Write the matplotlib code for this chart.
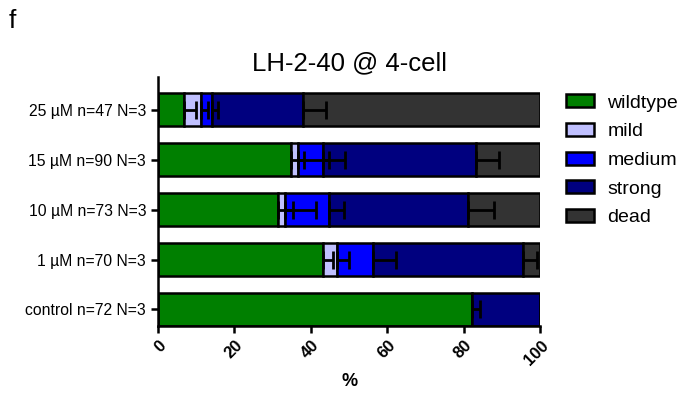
import numpy as np
import matplotlib.pyplot as plt

plt.rcParams['font.family'] = ['Liberation Sans', 'DejaVu Sans']

# groups from bottom to top
groups = ['control n=72 N=3', '1 µM n=70 N=3', '10 µM n=73 N=3',
          '15 µM n=90 N=3', '25 µM n=47 N=3']
categories = ['wildtype', 'mild', 'medium', 'strong', 'dead']
colors = ['#007f00', '#c0c0ff', '#0000ff', '#00007f', '#333333']

# percentages per category (rows follow groups)
wildtype = [82.0, 43.2, 31.4, 34.9, 6.8]
mild = [0.0, 3.6, 1.8, 1.7, 4.4]
medium = [0.0, 9.5, 11.5, 6.6, 3.0]
strong = [18.0, 39.2, 36.4, 39.9, 23.7]
dead = [0.0, 4.5, 18.9, 16.9, 62.1]

# positive SD error bars
wildtype_err = [2.2, 2.6, 3.8, 3.3, 3.2]
mild_err = [0.0, 3.1, 8.1, 8.1, 2.0]
medium_err = [0.0, 5.9, 3.9, 5.6, 1.4]
strong_err = [0.0, 3.5, 6.7, 6.1, 6.0]
dead_err = [0.0, 0.0, 0.0, 0.0, 0.0]

xticks = [0, 20, 40, 60, 80, 100]

values = [wildtype, mild, medium, strong, dead]
errors = [wildtype_err, mild_err, medium_err, strong_err, dead_err]

fig = plt.figure(figsize=(6.86, 3.98), dpi=100)
ax = fig.add_axes([0.2303, 0.181, 0.5576, 0.6256])

y = np.arange(len(groups))
left = np.zeros(len(groups))
for name, vals, errs, col in zip(categories, values, errors, colors):
    vals = np.array(vals)
    errs = np.array(errs)
    ax.barh(y, vals, left=left, height=0.66, color=col, edgecolor='black',
            linewidth=1.8, label=name, zorder=2)
    ends = left + vals
    mask = errs > 0
    ax.errorbar(ends[mask], y[mask], xerr=[np.zeros(mask.sum()), errs[mask]],
                fmt='none', ecolor='black', elinewidth=2, capsize=6.5,
                capthick=2, zorder=3)
    left = ends

ax.set_xlim(0, 100)
ax.set_ylim(-0.33, 4.66)
ax.set_yticks(y)
ax.set_yticklabels(groups, fontsize=11.3)
ax.set_xticks(xticks)
ax.set_xticklabels([str(t) for t in xticks], rotation=45, fontsize=12,
                   fontweight='bold', ha='right', va='top',
                   rotation_mode='anchor')
ax.set_xlabel('%', fontsize=13, fontweight='bold', labelpad=4)
ax.set_title('LH-2-40 @ 4-cell', fontsize=18.5, pad=5)

for s in ['top', 'right']:
    ax.spines[s].set_visible(False)
for s in ['left', 'bottom']:
    ax.spines[s].set_linewidth(1.8)
ax.tick_params(axis='both', width=1.8, length=5)

ax.legend(loc='upper left', bbox_to_anchor=(1.02, 1.0), frameon=False,
          fontsize=14, handlelength=1.45, handleheight=0.65, labelspacing=0.58,
          handletextpad=0.7)

fig.text(0.012, 0.93, 'f', fontsize=19)

fig.savefig('out.png', dpi=100)
